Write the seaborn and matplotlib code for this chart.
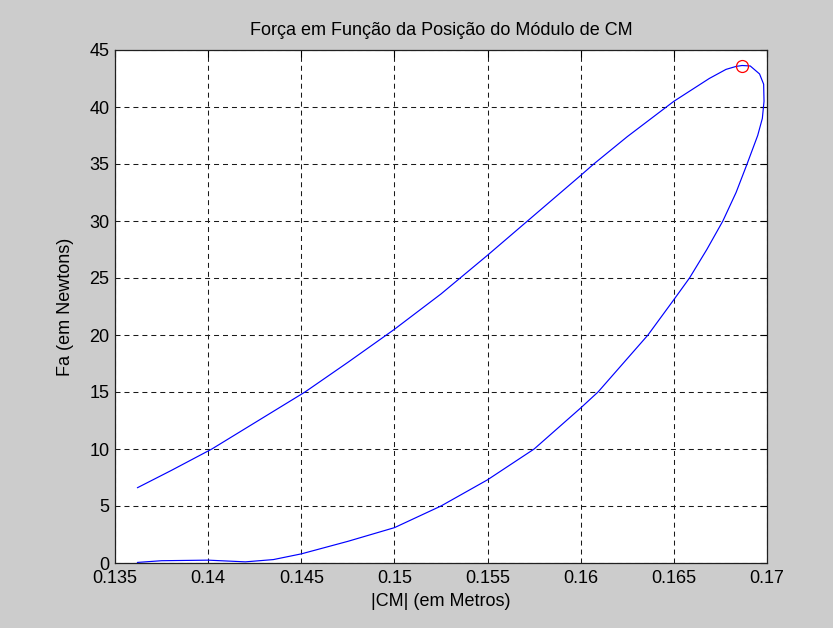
import matplotlib
matplotlib.use("Agg")
import matplotlib.pyplot as plt
import seaborn as sns
import pandas as pd

# |CM| (m) and force Fa (N) along the closed loop:
# rising branch up to the peak, then the returning lower branch
cm_pos = [0.1362, 0.1380, 0.1402, 0.1425, 0.1452, 0.1475, 0.1500, 0.1525, 0.1550,
          0.1575, 0.1600, 0.1607, 0.1625, 0.1650, 0.1669, 0.1678, 0.16834,
          0.16866, 0.1691, 0.1696, 0.16982, 0.16984, 0.16975, 0.1695, 0.16893,
          0.16834, 0.16763, 0.16677, 0.16584, 0.1650, 0.16361, 0.16227, 0.16093,
          0.1600, 0.1575, 0.1550, 0.1525, 0.1500, 0.1475, 0.1450, 0.1435, 0.1420,
          0.1400, 0.1375, 0.1362]
force = [6.6, 8.1, 10.0, 12.3, 15.0, 17.6, 20.5, 23.6, 27.0,
         30.5, 34.0, 35.0, 37.4, 40.5, 42.5, 43.3, 43.56,
         43.64, 43.6, 42.9, 42.0, 40.5, 39.0, 37.5, 35.0,
         32.5, 30.0, 27.5, 25.0, 23.1, 20.0, 17.5, 15.0,
         13.6, 10.0, 7.3, 5.0, 3.1, 1.9, 0.8, 0.3, 0.1,
         0.25, 0.2, 0.05]

# point of maximum force
peak_x = [0.16866]
peak_y = [43.64]

x_ticks = [0.135, 0.14, 0.145, 0.15, 0.155, 0.16, 0.165, 0.17]
x_labels = ["0.135", "0.14", "0.145", "0.15", "0.155", "0.16", "0.165", "0.17"]
y_ticks = [0, 5, 10, 15, 20, 25, 30, 35, 40, 45]

sns.set_style("white")
plt.rcParams["font.family"] = ["Liberation Sans", "DejaVu Sans"]
plt.rcParams["font.size"] = 13
plt.rcParams["text.color"] = "black"
plt.rcParams["axes.labelcolor"] = "black"

df = pd.DataFrame({"cm": cm_pos, "fa": force})

fig = plt.figure(figsize=(8.33, 6.28), dpi=100, facecolor="#cccccc")
ax = fig.add_axes([115 / 833, 65 / 628, 652 / 833, 513 / 628])
ax.set_facecolor("white")

sns.lineplot(data=df, x="cm", y="fa", sort=False, estimator=None,
             color="#0000ff", linewidth=0.85, ax=ax)
ax.plot(peak_x, peak_y, marker="o", markersize=8.6, markerfacecolor="none",
        markeredgecolor="#ff0000", markeredgewidth=0.9, linestyle="none")

ax.set_xlim(0.135, 0.17)
ax.set_ylim(0, 45)
ax.set_xticks(x_ticks)
ax.set_xticklabels(x_labels)
ax.set_yticks(y_ticks)

ax.grid(True, color="#1a1a1a", linestyle=(0, (4.8, 3.8)), linewidth=0.75)
ax.tick_params(direction="in", top=True, right=True, length=4.7, width=0.8,
               colors="black", labelsize=13)
ax.tick_params(axis="x", pad=5)
ax.tick_params(axis="y", pad=4)
for s in ax.spines.values():
    s.set_visible(True)
    s.set_color("#202020")
    s.set_linewidth(0.9)

ax.set_title("Força em Função da Posição do Módulo de CM", fontsize=13,
             pad=10.5, color="black")
ax.set_xlabel("|CM| (em Metros)", fontsize=13)
ax.set_ylabel("Fa (em Newtons)", fontsize=13)
ax.xaxis.set_label_coords(0.5, -0.058)
ax.yaxis.set_label_coords(-0.063, 0.5)

fig.savefig("out.png", dpi=100, facecolor=fig.get_facecolor())
